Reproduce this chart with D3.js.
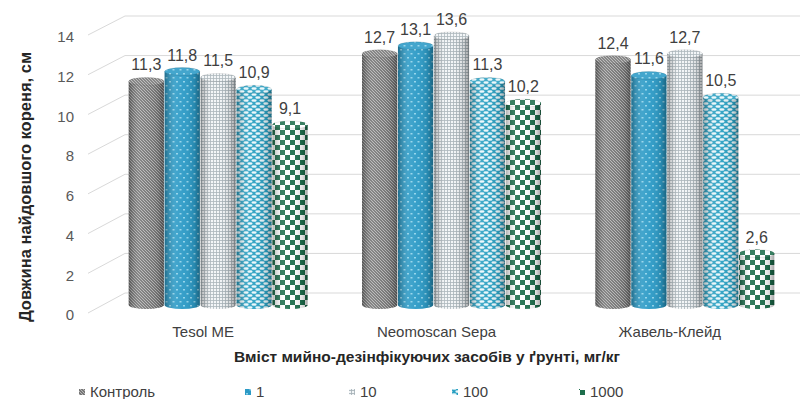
<!DOCTYPE html>
<html><head><meta charset="utf-8">
<script src="https://cdn.jsdelivr.net/npm/d3@7"></script>
<style>body{margin:0;background:#fff;}svg{display:block;font-family:"Liberation Sans",Arial,sans-serif;}</style>
</head><body>
<svg id="c" width="810" height="399"></svg>
<script>
const categories = ["Tesol ME", "Neomoscan Sepa", "Жавель-Клейд"];
const seriesNames = ["Контроль", "1", "10", "100", "1000"];
const valuesControl = [11.3, 12.7, 12.4];
const values1 = [11.8, 13.1, 11.6];
const values10 = [11.5, 13.6, 12.7];
const values100 = [10.9, 11.3, 10.5];
const values1000 = [9.1, 10.2, 2.6];
const seriesValues = [valuesControl, values1, values10, values100, values1000];
const yTicks = [0, 2, 4, 6, 8, 10, 12, 14];
const yTitle = "Довжина найдовшого кореня, см";
const xTitle = "Вміст мийно-дезінфікуючих засобів у ґрунті, мг/кг";

const svg = d3.select("#c");
const defs = svg.append("defs");

function pat(id, w, h, bg, draw) {
  const p = defs.append("pattern").attr("id", id).attr("patternUnits", "userSpaceOnUse").attr("width", w).attr("height", h);
  p.append("rect").attr("width", w).attr("height", h).attr("fill", bg);
  draw(p);
}
pat("p0", 3, 3, "#777777", p => {
  p.append("path").attr("d", "M0,0 L3,3 M-1,2 L1,4 M2,-1 L4,1").attr("stroke", "#bdbdbd").attr("stroke-width", 0.9);
});
pat("p1", 7, 8, "#2b9ac6", p => {
  p.append("rect").attr("x", 1).attr("y", 1).attr("width", 2).attr("height", 1.5).attr("fill", "#8fd3ea");
  p.append("rect").attr("x", 4.5).attr("y", 5).attr("width", 2).attr("height", 1.5).attr("fill", "#8fd3ea");
});
pat("p2", 3, 3, "#f2f5f7", p => {
  p.append("path").attr("d", "M0,0.5 H3 M0.5,0 V3").attr("stroke", "#a3aeb5").attr("stroke-width", 0.8);
});
pat("p3", 8, 6, "#2aa0c2", p => {
  p.append("ellipse").attr("cx", 2).attr("cy", 1.5).attr("rx", 2.6).attr("ry", 1.2).attr("fill", "#eaf7fb");
  p.append("ellipse").attr("cx", 6).attr("cy", 4.5).attr("rx", 2.6).attr("ry", 1.2).attr("fill", "#eaf7fb");
  p.append("ellipse").attr("cx", -2).attr("cy", 4.5).attr("rx", 2.6).attr("ry", 1.2).attr("fill", "#eaf7fb");
  p.append("ellipse").attr("cx", 10).attr("cy", 1.5).attr("rx", 2.6).attr("ry", 1.2).attr("fill", "#eaf7fb");
});
pat("p4", 10, 10, "#ffffff", p => {
  p.append("rect").attr("x", 0).attr("y", 0).attr("width", 5).attr("height", 5).attr("fill", "#1d6e4c");
  p.append("rect").attr("x", 5).attr("y", 5).attr("width", 5).attr("height", 5).attr("fill", "#1d6e4c");
});
const shade = defs.append("linearGradient").attr("id", "shade").attr("x1", 0).attr("x2", 1).attr("y1", 0).attr("y2", 0);
[[0, "#000", 0.3], [0.3, "#fff", 0.12], [0.55, "#fff", 0.05], [0.85, "#000", 0.12], [1, "#000", 0.35]].forEach(s =>
  shade.append("stop").attr("offset", s[0]).attr("stop-color", s[1]).attr("stop-opacity", s[2]));

const yTick = d3.scaleLinear().domain([0, 14]).range([315, 37]);
const yBack = d3.scaleLinear().domain([0, 14]).range([293, 16]);
const yBar = d3.scaleLinear().domain([0, 14]).range([305, 28]);
const x0 = d3.scaleBand().domain(categories).range([101.5, 801.5]).paddingInner(0.227).paddingOuter(0.1135);
const x1 = d3.scaleBand().domain(seriesNames).range([0, x0.bandwidth()]).padding(0.02);

const grid = svg.append("g");
yTicks.forEach(t => {
  grid.append("path")
    .attr("d", `M88,${yTick(t) - 2} L125,${yBack(t)} L800,${yBack(t)}`)
    .attr("fill", "none").attr("stroke", "#d9d9d9").attr("stroke-width", 1);
});
svg.append("g").selectAll("text").data(yTicks).join("text")
  .attr("x", 74).attr("y", d => yTick(d)).attr("dy", "0.35em")
  .attr("text-anchor", "end").attr("font-size", 15).attr("fill", "#595959").text(d => d);

const ry = 4;
const gBars = svg.append("g");
categories.forEach((c, ci) => {
  seriesNames.forEach((s, si) => {
    const v = seriesValues[si][ci];
    const xl = x0(c) + x1(s), w = x1.bandwidth(), xr = xl + w, rx = w / 2;
    const yt = yBar(v), yb = yBar(0);
    const body = `M${xl},${yt} V${yb} A${rx},${ry} 0 0 0 ${xr},${yb} V${yt} Z`;
    const g = gBars.append("g");
    g.append("path").attr("d", body).attr("fill", `url(#p${si})`);
    g.append("path").attr("d", body).attr("fill", "url(#shade)");
    g.append("ellipse").attr("cx", xl + rx).attr("cy", yt).attr("rx", rx).attr("ry", ry).attr("fill", `url(#p${si})`);
    g.append("ellipse").attr("cx", xl + rx).attr("cy", yt).attr("rx", rx).attr("ry", ry).attr("fill", "#fff").attr("fill-opacity", 0.12)
      .attr("stroke", "#000").attr("stroke-opacity", 0.15).attr("stroke-width", 0.6);
    g.append("text").attr("x", xl + rx).attr("y", yt - 11).attr("text-anchor", "middle")
      .attr("font-size", 16).attr("fill", "#404040").text(String(v).replace(".", ","));
  });
});

svg.append("g").selectAll("text").data(categories).join("text")
  .attr("x", d => x0(d) + x0.bandwidth() / 2 - 15).attr("y", 332).attr("dy", "0.35em")
  .attr("text-anchor", "middle").attr("font-size", 15).attr("fill", "#404040").text(d => d);

svg.append("text").attr("x", 427).attr("y", 357).attr("dy", "0.35em").attr("text-anchor", "middle")
  .attr("font-size", 15.5).attr("font-weight", "bold").attr("fill", "#262626").text(xTitle);
svg.append("text").attr("transform", "translate(25,187) rotate(-90)").attr("dy", "0.35em").attr("text-anchor", "middle")
  .attr("font-size", 16.5).attr("font-weight", "bold").attr("fill", "#262626").text(yTitle);

const legendX = [82, 248, 352, 455, 582];
const lg = svg.append("g");
seriesNames.forEach((s, i) => {
  lg.append("rect").attr("x", legendX[i] - 3).attr("y", 389).attr("width", 6).attr("height", 6).attr("fill", `url(#p${i})`);
  lg.append("text").attr("x", legendX[i] + 8).attr("y", 392).attr("dy", "0.35em")
    .attr("font-size", 15).attr("fill", "#404040").text(s);
});
</script>
</body></html>
